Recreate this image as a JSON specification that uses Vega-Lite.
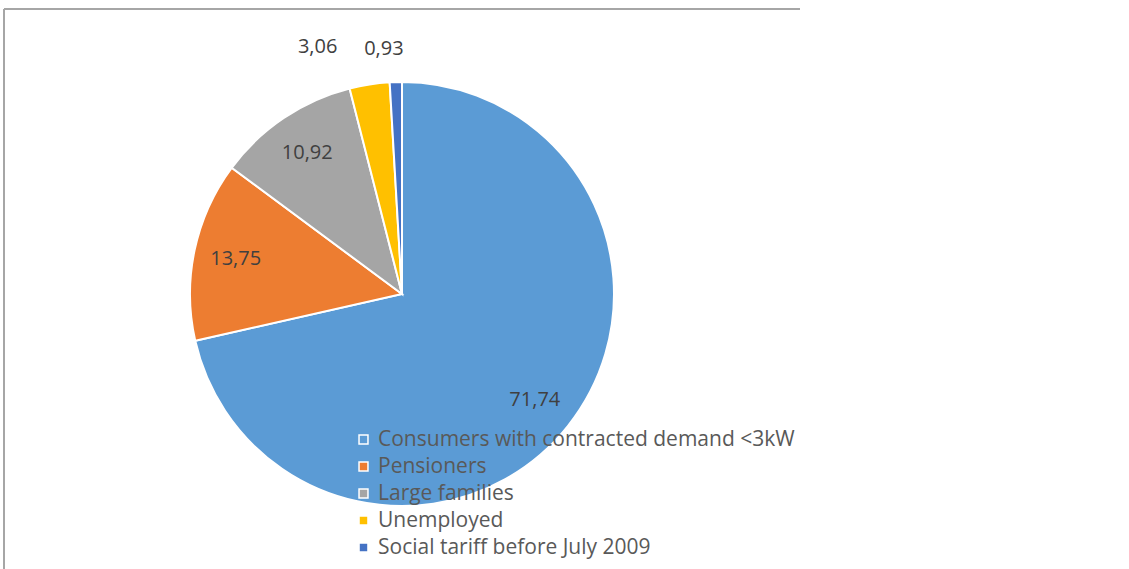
{
  "$schema": "https://vega.github.io/schema/vega-lite/v6.json",
  "width": 796,
  "height": 570,
  "autosize": {"type": "none"},
  "padding": {"left": 4, "top": 9, "right": 0, "bottom": 0},
  "background": "white",
  "view": {"stroke": "#a6a6a6", "strokeWidth": 2, "strokeDash": [796, 1366, 570, 0]},
  "config": {
    "locale": {"number": {"decimal": ",", "thousands": ".", "grouping": [3], "currency": ["", ""]}},
    "font": "Open Sans"
  },
  "data": {
    "values": [
      {"idx": 1, "category": "Consumers with contracted demand <3kW", "value": 71.74},
      {"idx": 2, "category": "Pensioners", "value": 13.75},
      {"idx": 3, "category": "Large families", "value": 10.92},
      {"idx": 4, "category": "Unemployed", "value": 3.06},
      {"idx": 5, "category": "Social tariff before July 2009", "value": 0.93}
    ]
  },
  "encoding": {
    "theta": {"field": "value", "type": "quantitative", "stack": true},
    "order": {"field": "idx", "type": "quantitative"}
  },
  "layer": [
    {
      "mark": {"type": "arc", "radius": 212, "stroke": "white", "strokeWidth": 2},
      "encoding": {
        "color": {
          "field": "category",
          "type": "nominal",
          "scale": {
            "domain": ["Consumers with contracted demand <3kW", "Pensioners", "Large families", "Unemployed", "Social tariff before July 2009"],
            "range": ["#5b9bd5", "#ed7d31", "#a5a5a5", "#ffc000", "#4472c4"]
          },
          "legend": {
            "title": null,
            "orient": "none",
            "legendX": 349,
            "legendY": 420,
            "padding": 0,
            "symbolType": "square",
            "symbolSize": 80,
            "symbolStrokeColor": "white",
            "symbolStrokeWidth": 1.5,
            "symbolOpacity": 1,
            "labelFont": "Open Sans",
            "labelFontSize": 21,
            "labelColor": "#595959",
            "labelLimit": 600,
            "rowPadding": 5,
            "labelOffset": 4
          }
        }
      }
    },
    {
      "mark": {"type": "text", "radius": 170, "fontSize": 20, "color": "#404040"},
      "encoding": {
        "text": {"condition": {"test": "datum.value > 5", "field": "value", "type": "quantitative", "format": ".2f"}, "value": ""}
      }
    },
    {
      "mark": {"type": "text", "radius": 250, "dx": -46, "fontSize": 20, "color": "#404040"},
      "encoding": {
        "text": {"condition": {"test": "datum.idx == 4", "field": "value", "type": "quantitative", "format": ".2f"}, "value": ""}
      }
    },
    {
      "mark": {"type": "text", "radius": 245, "dx": -11, "fontSize": 20, "color": "#404040"},
      "encoding": {
        "text": {"condition": {"test": "datum.idx == 5", "field": "value", "type": "quantitative", "format": ".2f"}, "value": ""}
      }
    }
  ]
}
